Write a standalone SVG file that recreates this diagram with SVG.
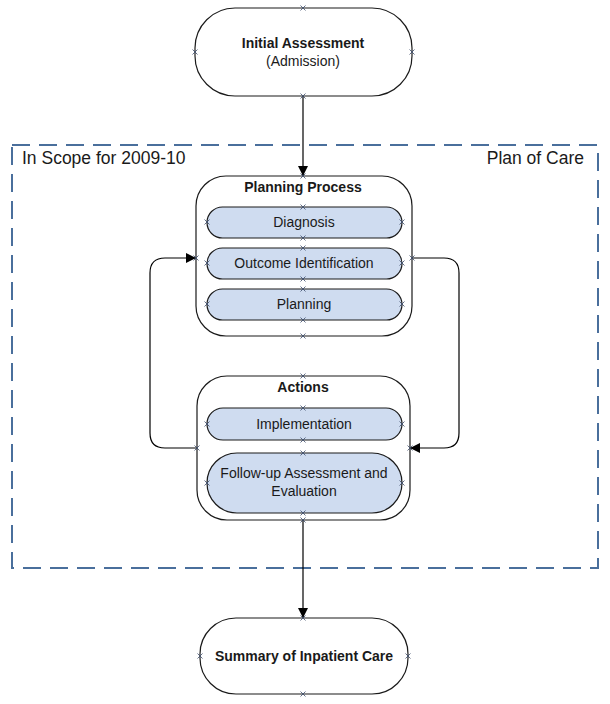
<svg xmlns="http://www.w3.org/2000/svg" width="610" height="704" viewBox="0 0 610 704">
<style>
.box{fill:#fff;stroke:#1a1a1a;stroke-width:1.2}
.pill{fill:#cfdcf0;stroke:#1a1a1a;stroke-width:1.2}
.t{font-family:"Liberation Sans",Arial,sans-serif;font-size:14px;fill:#1a1a1a;text-anchor:middle}
.b{font-weight:bold}
.lbl{font-family:"Liberation Sans",Arial,sans-serif;font-size:17.5px;fill:#1a1a1a}
.conn{fill:none;stroke:#000;stroke-width:1.2}
.scope{fill:none;stroke:#4a6f9c;stroke-width:2;stroke-dasharray:18 9}
.cp{stroke:#3a4a6a;stroke-width:0.8;fill:none}
</style>
<defs>
<marker id="arr" viewBox="0 0 10 10" refX="10" refY="5" markerWidth="10" markerHeight="10" markerUnits="userSpaceOnUse" orient="auto">
<path d="M0,0 L10,5 L0,10 z" fill="#000"/>
</marker>
<path id="x" class="cp" d="M-2.5,-2.5 L2.5,2.5 M-2.5,2.5 L2.5,-2.5"/>
</defs>

<g id="scope">
<rect class="scope" x="12" y="145" width="586" height="423"/>
<text class="lbl" x="22" y="164">In Scope for 2009-10</text>
<text class="lbl" x="584" y="164" text-anchor="end">Plan of Care</text>
</g>

<g id="connectors">
<path class="conn" d="M303,96 V176" marker-end="url(#arr)"/>
<path class="conn" d="M197,448 H165 Q150,448 150,433 V273 Q150,258 165,258 H196" marker-end="url(#arr)"/>
<path class="conn" d="M412,258 H444 Q459,258 459,273 V433 Q459,448 444,448 H410" marker-end="url(#arr)"/>
<path class="conn" d="M303,520 V618" marker-end="url(#arr)"/>
</g>

<g id="initial">
<rect class="box" x="195" y="8" width="217" height="88" rx="40" ry="40"/>
<text class="t b" x="303" y="48">Initial Assessment</text>
<text class="t" x="303" y="66">(Admission)</text>
</g>

<g id="planning-process">
<rect class="box" x="196" y="176" width="216" height="160" rx="30" ry="30"/>
<text class="t b" x="303" y="192">Planning Process</text>
</g>
<g id="diagnosis">
<rect class="pill" x="207" y="207" width="195" height="31" rx="15.5" ry="15.5"/>
<text class="t" x="304" y="227">Diagnosis</text>
</g>
<g id="outcome">
<rect class="pill" x="207" y="248" width="195" height="31" rx="15.5" ry="15.5"/>
<text class="t" x="304" y="268">Outcome Identification</text>
</g>
<g id="planning">
<rect class="pill" x="207" y="289" width="195" height="31" rx="15.5" ry="15.5"/>
<text class="t" x="304" y="309">Planning</text>
</g>

<g id="actions">
<rect class="box" x="197" y="376" width="213" height="144" rx="30" ry="30"/>
<text class="t b" x="303" y="392">Actions</text>
</g>
<g id="implementation">
<rect class="pill" x="207" y="408" width="195" height="32" rx="16" ry="16"/>
<text class="t" x="304" y="429">Implementation</text>
</g>
<g id="followup">
<rect class="pill" x="207" y="453" width="195" height="60" rx="30" ry="30"/>
<text class="t" x="304" y="478">Follow-up Assessment and</text>
<text class="t" x="304" y="496">Evaluation</text>
</g>

<g id="summary">
<rect class="box" x="200" y="618" width="208" height="76" rx="36" ry="36"/>
<text class="t b" x="304" y="661">Summary of Inpatient Care</text>
</g>

<g id="connection-points">
<use href="#x" x="303" y="8"/><use href="#x" x="195" y="52"/><use href="#x" x="412" y="52"/><use href="#x" x="303" y="96"/>
<use href="#x" x="303" y="176"/><use href="#x" x="196" y="258"/><use href="#x" x="412" y="258"/><use href="#x" x="303" y="336"/>
<use href="#x" x="303" y="207"/><use href="#x" x="303" y="238"/><use href="#x" x="207" y="222"/><use href="#x" x="402" y="222"/>
<use href="#x" x="303" y="248"/><use href="#x" x="303" y="279"/><use href="#x" x="207" y="263"/><use href="#x" x="402" y="263"/>
<use href="#x" x="303" y="289"/><use href="#x" x="303" y="320"/><use href="#x" x="207" y="304"/><use href="#x" x="402" y="304"/>
<use href="#x" x="303" y="376"/><use href="#x" x="197" y="448"/><use href="#x" x="410" y="448"/><use href="#x" x="303" y="520"/>
<use href="#x" x="303" y="408"/><use href="#x" x="303" y="440"/><use href="#x" x="207" y="424"/><use href="#x" x="402" y="424"/>
<use href="#x" x="303" y="453"/><use href="#x" x="303" y="513"/><use href="#x" x="207" y="483"/><use href="#x" x="402" y="483"/>
<use href="#x" x="303" y="618"/><use href="#x" x="200" y="656"/><use href="#x" x="408" y="656"/><use href="#x" x="303" y="694"/>
</g>
</svg>
